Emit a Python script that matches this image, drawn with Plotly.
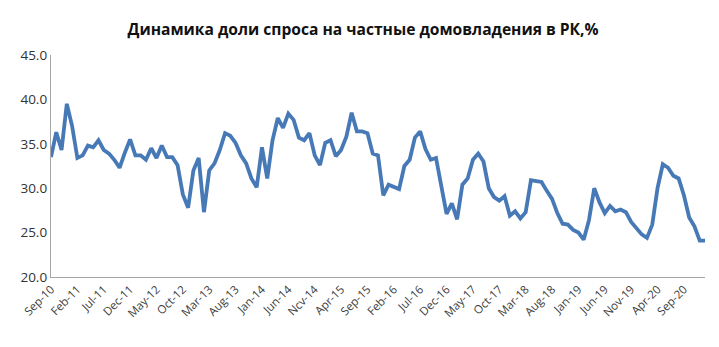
import plotly.graph_objects as go

month_names = ["Jan", "Feb", "Mar", "Apr", "May", "Jun", "Jul", "Aug", "Sep", "Oct", "Nov", "Dec"]

values = [33.5, 36.3, 34.3, 39.5, 37.0, 33.4, 33.7, 34.8, 34.6, 35.4,
          34.3, 33.9, 33.2, 32.3, 34.0, 35.5, 33.7, 33.7, 33.2, 34.5,
          33.4, 34.8, 33.5, 33.5, 32.6, 29.3, 27.8, 32.0, 33.4, 27.3,
          32.0, 32.8, 34.3, 36.2, 35.9, 35.1, 33.7, 32.8, 31.1, 30.1,
          34.6, 31.1, 35.4, 37.9, 36.8, 38.4, 37.7, 35.7, 35.4, 36.2,
          33.7, 32.6, 35.1, 35.4, 33.6, 34.3, 35.8, 38.5, 36.4, 36.4,
          36.2, 33.9, 33.7, 29.2, 30.4, 30.1, 29.9, 32.5, 33.2, 35.7,
          36.4, 34.4, 33.2, 33.4, 30.1, 27.1, 28.3, 26.5, 30.4, 31.1,
          33.2, 33.9, 33.0, 30.0, 29.0, 28.6, 29.1, 26.9, 27.4, 26.6,
          27.3, 30.9, 30.8, 30.7, 29.7, 28.8, 27.2, 26.0, 25.9, 25.3,
          25.0, 24.2, 26.4, 30.0, 28.4, 27.2, 28.0, 27.4, 27.6, 27.3,
          26.2, 25.5, 24.8, 24.4, 25.9, 30.0, 32.7, 32.3, 31.4, 31.1,
          29.2, 26.7, 25.7, 24.1, 24.1]

# monthly categories starting Sep-2010
categories = []
for i in range(len(values)):
    m = (8 + i) % 12
    y = 10 + (8 + i) // 12
    categories.append(f"{month_names[m]}-{y:02d}")

tick_vals = categories[::5][:25]
tick_text = [t if t != "Nov-14" else "Ncv-14" for t in tick_vals]

fig = go.Figure()
fig.add_trace(go.Scatter(
    x=categories, y=values, mode="lines",
    line=dict(color="#4679b6", width=3.8),
    hoverinfo="x+y"
))

fig.update_layout(
    width=719, height=347,
    margin=dict(l=51, r=14, t=55, b=70),
    paper_bgcolor="white", plot_bgcolor="white",
    showlegend=False,
    title=dict(
        text="<b>Динамика доли спроса на частные домовладения в РК,%</b>",
        x=0.505, xanchor="center", y=0.915, yanchor="middle",
        font=dict(family="Open Sans", size=15.6, color="#111111")
    ),
    font=dict(family="Open Sans", color="#333333"),
)

fig.update_xaxes(
    type="category",
    range=[0, len(values) - 1],
    tickmode="array", tickvals=tick_vals, ticktext=tick_text,
    tickangle=-45, tickfont=dict(size=11.5, color="#404040"),
    showline=True, linecolor="#a6a6a6", linewidth=1.3,
    showgrid=False, zeroline=False, ticks="",
)
fig.update_yaxes(
    range=[20, 45], tickvals=[20, 25, 30, 35, 40, 45],
    tickformat=".1f", tickfont=dict(size=13.5, color="#333333"),
    showline=True, linecolor="#a6a6a6", linewidth=1.3,
    showgrid=False, zeroline=False, ticks="",
)

fig.write_html("out.html")
